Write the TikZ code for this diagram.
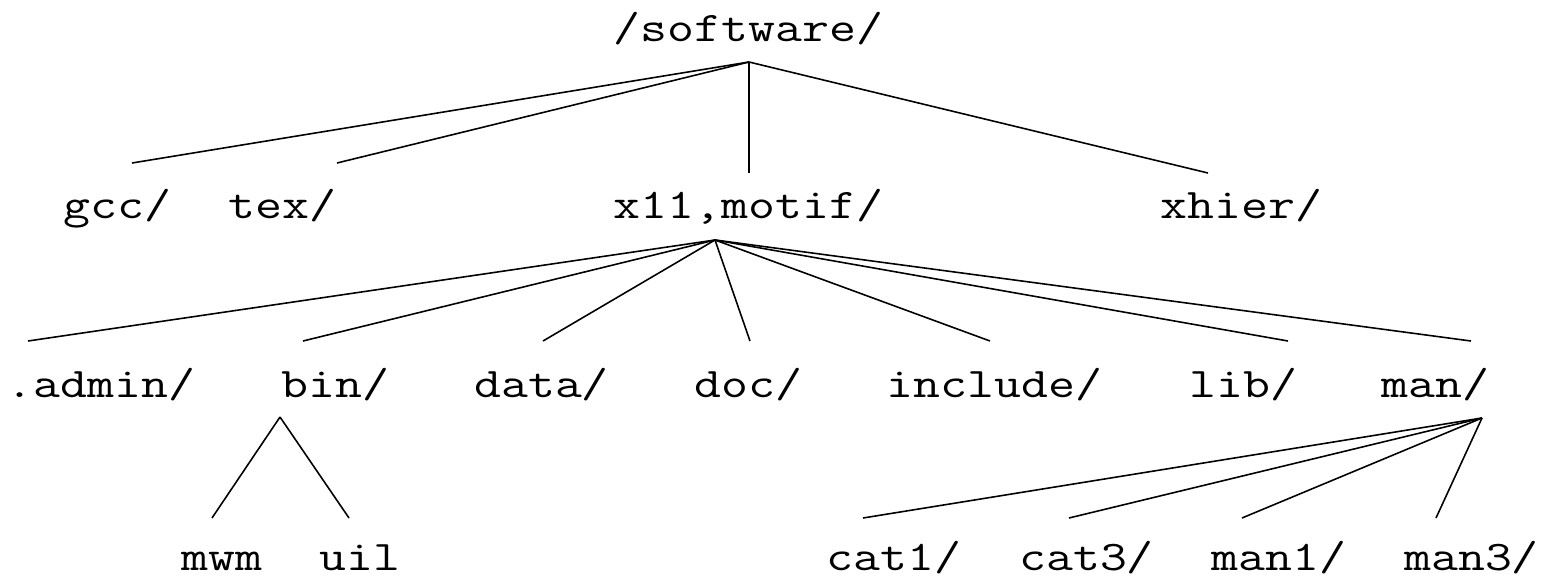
\documentclass[tikz,border=0pt]{standalone}
\usepackage{graphicx}
\usetikzlibrary{positioning}
\newcommand{\dirlabel}[1]{\scalebox{1.24}[1]{#1}}

\begin{document}
\begin{tikzpicture}[dirname/.style={anchor=base west, inner sep=0pt, font=\ttfamily\fontsize{12}{14}\selectfont},
    branch/.style={line width=0.45pt}]
    \useasboundingbox (0,0) rectangle (15.43,5.79);

    % directory names
    \node[dirname] (sw) at (6.13,5.38) {\dirlabel{/software/}};

    \node[dirname] (gcc) at (0.63,3.61) {\dirlabel{gcc/}};
    \node[dirname] (tex) at (2.28,3.61) {\dirlabel{tex/}};
    \node[dirname] (x11) at (6.13,3.61) {\dirlabel{x11,motif/}};
    \node[dirname] (xhier) at (11.60,3.61) {\dirlabel{xhier/}};

    \node[dirname] (admin) at (0.06,1.82) {\dirlabel{.admin/}};
    \node[dirname] (bin) at (2.81,1.82) {\dirlabel{bin/}};
    \node[dirname] (data) at (4.735,1.82) {\dirlabel{data/}};
    \node[dirname] (doc) at (6.935,1.82) {\dirlabel{doc/}};
    \node[dirname] (incl) at (8.86,1.82) {\dirlabel{include/}};
    \node[dirname] (lib) at (11.885,1.82) {\dirlabel{lib/}};
    \node[dirname] (man) at (13.81,1.82) {\dirlabel{man/}};

    \node[dirname] (mwm) at (1.81,0.09) {\dirlabel{mwm}};
    \node[dirname] (uil) at (3.185,0.09) {\dirlabel{uil}};
    \node[dirname] (cat1) at (8.26,0.09) {\dirlabel{cat1/}};
    \node[dirname] (cat3) at (10.185,0.09) {\dirlabel{cat3/}};
    \node[dirname] (man1) at (12.11,0.09) {\dirlabel{man1/}};
    \node[dirname] (man3) at (14.035,0.09) {\dirlabel{man3/}};

    % fork points
    \coordinate (sw-fork) at (7.49,5.17);
    \coordinate (x11-fork) at (7.15,3.39);
    \coordinate (bin-fork) at (2.80,1.62);
    \coordinate (man-fork) at (14.82,1.61);

    % line ends above the names
    \coordinate (gcc-end) at (1.32,4.16);
    \coordinate (tex-end) at (3.37,4.16);
    \coordinate (x11-end) at (7.49,4.06);
    \coordinate (xhier-end) at (12.08,4.06);

    \coordinate (admin-end) at (0.28,2.38);
    \coordinate (bin-end) at (3.03,2.38);
    \coordinate (data-end) at (5.43,2.38);
    \coordinate (doc-end) at (7.50,2.38);
    \coordinate (incl-end) at (9.90,2.38);
    \coordinate (lib-end) at (12.88,2.38);
    \coordinate (man-end) at (14.71,2.38);

    \coordinate (mwm-end) at (2.12,0.61);
    \coordinate (uil-end) at (3.49,0.61);
    \coordinate (cat1-end) at (8.63,0.61);
    \coordinate (cat3-end) at (10.69,0.61);
    \coordinate (man1-end) at (12.42,0.61);
    \coordinate (man3-end) at (14.36,0.61);

    \foreach \e in {gcc,tex,x11,xhier}
        \draw[branch] (sw-fork) -- (\e-end);
    \foreach \e in {admin,bin,data,doc,incl,lib,man}
        \draw[branch] (x11-fork) -- (\e-end);
    \foreach \e in {mwm,uil}
        \draw[branch] (bin-fork) -- (\e-end);
    \foreach \e in {cat1,cat3,man1,man3}
        \draw[branch] (man-fork) -- (\e-end);
\end{tikzpicture}
\end{document}
